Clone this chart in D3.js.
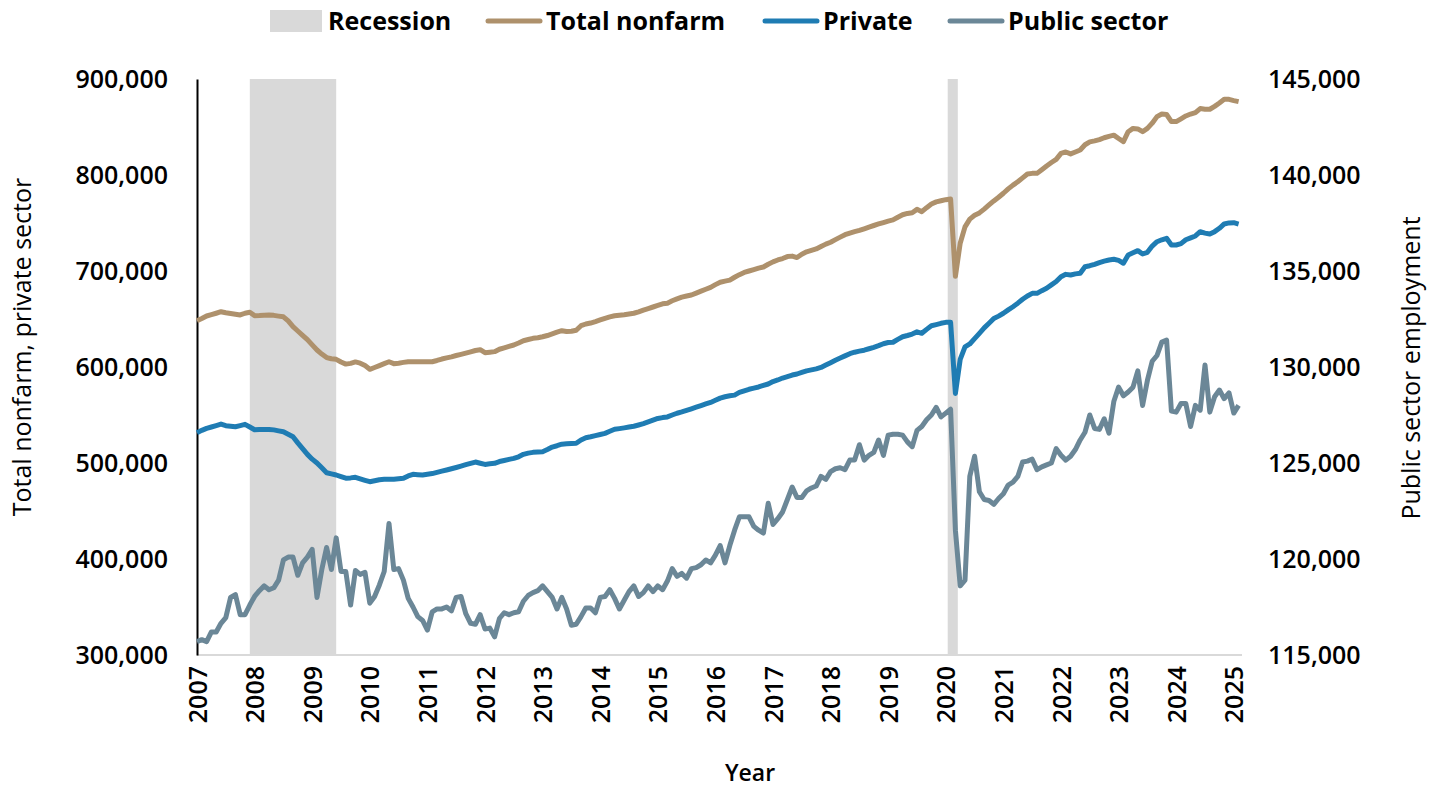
<!doctype html>
<meta charset="utf-8">
<style>
body { margin: 0; background: #fff; }
#chart text { font-family: "Open Sans", "Noto Sans", sans-serif; fill: #000; }
#chart .tick-label { font-size: 25px; font-weight: 600; }
#chart .year-label { font-size: 25px; font-weight: 600; }
#chart .axis-title { font-size: 25px; font-weight: 400; }
#chart .legend-label { font-size: 25px; font-weight: 700; }
</style>
<div id="chart"></div>
<script src="https://cdn.jsdelivr.net/npm/d3@7"></script>
<script>
// monthly series, first point = Jan 2007
var firstYear = 2007;

var totalNonfarm = [
  648200, 650500, 653100, 654500, 656000, 657600, 656500, 655800, 655000, 654200, 656000, 657000,
  653500, 653600, 653900, 654200, 653800, 653000, 652300, 648000, 642000, 637500, 633000, 628500,
  623000, 617700, 613500, 609800, 608600, 608000, 605200, 603000, 603800, 605300, 604000, 601500,
  597600, 599500, 601500, 603500, 605500, 603500, 604000, 604800, 605500, 605500, 605500, 605500,
  605500, 605500, 606800, 608300, 609500, 610600, 612000, 613200, 614500, 615800, 617200, 618000,
  614900, 615400, 616000, 618500, 620000, 621500, 622900, 625000, 627400, 628600, 629900, 630500,
  631500, 632800, 634500, 636300, 637800, 637000, 637200, 638300, 643000, 644800, 645800, 647300,
  649000, 650700, 652200, 653400, 654000, 654500, 655200, 656000, 657500, 659300, 660900, 662500,
  664100, 665800, 666500, 669000, 671000, 672800, 674000, 675000, 677000, 679000, 681000, 683000,
  685800, 688300, 689500, 690500, 693500, 696200, 698500, 700000, 701500, 703000, 704200, 707000,
  709500, 711500, 713000, 715000, 715500, 714000, 717500, 720000, 721500, 723000, 725500, 728000,
  730000, 732700, 735300, 737800, 739500, 741000, 742300, 744000, 745800, 747400, 749000, 750500,
  752000, 753200, 756000, 758600, 760000, 760700, 764200, 761800, 766000, 769800, 772000, 773200,
  774300, 775000, 694500, 728900, 746000, 754000, 758000, 760500, 764500, 768800, 773000, 776800,
  781000, 785500, 789500, 793000, 797000, 801000, 801700, 801700, 805500, 809400, 813000, 816300,
  822500, 824000, 822000, 824000, 826000, 831500, 834500, 835500, 836800, 838800, 840300, 841500,
  838000, 834700, 845100, 848500, 848000, 845100, 848500, 854000, 860800, 863500, 863000, 855600,
  855600, 858500, 861500, 863500, 865000, 869200, 868500, 868500, 871500, 875000, 878800, 878800,
  877500, 876400
];

var privateSector = [
  531600, 534000, 536100, 537500, 539000, 540600, 538900, 538300, 537800, 539000, 540300, 537500,
  534600, 534800, 535000, 535000, 534500, 533500, 532600, 530000, 527400, 521000, 515000, 509000,
  504000, 500000, 495000, 489900, 488700, 487500, 485800, 484200, 484500, 485100, 483500, 482000,
  480500, 481500, 482600, 483000, 483000, 483000, 483500, 484000, 486500, 488200, 487800, 487500,
  488200, 489000, 490300, 491500, 492700, 494000, 495300, 496700, 498200, 499600, 501000, 499700,
  498500, 499200, 499700, 501500, 502600, 503800, 504800, 506500, 509000, 510300, 511100, 511400,
  511800, 514000, 516600, 518000, 519600, 520000, 520300, 520500, 524000, 526300, 527300, 528500,
  529700, 530900, 533000, 535100, 535800, 536600, 537500, 538300, 539600, 541000, 542800, 544600,
  546400, 547300, 548000, 550000, 551800, 553200, 554800, 556500, 558100, 559800, 561500, 563100,
  565300, 567600, 569000, 570000, 570700, 573500, 575200, 576800, 578000, 579200, 580800, 582300,
  584800, 586500, 588500, 590000, 591600, 592700, 594400, 596000, 597000, 598000, 599500, 602000,
  604500, 607000, 609300, 611600, 613900, 615400, 616500, 617500, 619000, 620500, 622200, 624200,
  625500, 625800, 628800, 631500, 632800, 634300, 636600, 635100, 639200, 643000, 644200, 645500,
  646500, 646500, 572500, 608000, 621000, 624000, 629500, 635000, 640700, 645500, 650500, 653000,
  656000, 659500, 662800, 666500, 670500, 674000, 676700, 676700, 679500, 682000, 685500, 689000,
  694000, 696500, 695800, 697000, 697600, 704500, 705500, 707000, 708800, 710300, 711500, 712200,
  711000, 708100, 716700, 719000, 721200, 717700, 719500, 726000, 730500, 732500, 734100, 727100,
  727100, 728500, 732500, 734500, 736500, 740900, 739500, 738500, 741000, 744500, 749000, 750100,
  750300, 748900
];

var publicSector = [
  115700, 115800, 115700, 116200, 116200, 116650, 116950, 118000, 118150, 117100, 117100, 117600,
  118050, 118350, 118600, 118400, 118500, 118900, 119950, 120100, 120100, 119150, 119800, 120100,
  120500, 118000, 119450, 120600, 119450, 121100, 119350, 119350, 117600, 119400, 119200, 119300,
  117700, 118050, 118650, 119350, 121850, 119450, 119500, 118900, 117950, 117500, 117000, 116800,
  116300, 117250, 117400, 117400, 117500, 117300, 118000, 118050, 117150, 116650, 116600, 117100,
  116350, 116400, 115950, 116900, 117200, 117100, 117200, 117250, 117800, 118100, 118250, 118350,
  118600, 118300, 118000, 117400, 118000, 117400, 116550, 116600, 117000, 117450, 117450, 117200,
  118000, 118050, 118400, 117950, 117400, 117850, 118300, 118600, 118050, 118250, 118600, 118300,
  118600, 118400, 118850, 119500, 119100, 119250, 119000, 119500, 119550, 119700, 119950, 119800,
  120200, 120700, 119800, 120700, 121500, 122200, 122200, 122200, 121700, 121500, 121350, 122900,
  121800, 122100, 122450, 123100, 123750, 123200, 123200, 123550, 123700, 123800, 124300, 124150,
  124550, 124700, 124750, 124650, 125150, 125150, 125950, 125150, 125400, 125550, 126200, 125400,
  126450, 126500, 126500, 126450, 126100, 125850, 126700, 126900, 127250, 127500, 127900, 127400,
  127600, 127800, 121500, 118600, 118900, 124300, 125350, 123500, 123100, 123050, 122850, 123150,
  123400, 123850, 124000, 124300, 125050, 125100, 125200, 124650, 124800, 124900, 125000, 125750,
  125400, 125150, 125350, 125700, 126200, 126600, 127500, 126800, 126750, 127300, 126550, 128200,
  128950, 128500, 128700, 128950, 129800, 128000, 129300, 130300, 130600, 131300, 131400, 127700,
  127650, 128100, 128100, 126900, 128000, 127750, 130100, 127650, 128450, 128800, 128350, 128650,
  127600, 128000
];

var yearLabels = d3.range(2007, 2026).map(String);
var leftTicks = [300000, 400000, 500000, 600000, 700000, 800000, 900000];
var rightTicks = [115000, 120000, 125000, 130000, 135000, 140000, 145000];

// recession spans in months since Jan 2007
var recessionStart = [11, 156.4];
var recessionEnd = [29, 158.5];

var seriesNames = ["Total nonfarm", "Private", "Public sector"];
var seriesColors = ["#ae916c", "#1f7cb3", "#6b8797"];
</script>
<script>
var width = 1441;
var height = 787;
var plot = {left: 197, right: 1241, top: 79, bottom: 655};

var svg = d3.select("#chart").append("svg")
    .attr("width", width)
    .attr("height", height)
    .style("display", "block");

var x = d3.scaleLinear()
    .domain([0, 217.5])
    .range([plot.left, plot.right]);
var yLeft = d3.scaleLinear()
    .domain([300000, 900000])
    .range([plot.bottom, plot.top]);
var yRight = d3.scaleLinear()
    .domain([115000, 145000])
    .range([plot.bottom, plot.top]);

var fmt = d3.format(",");

// recession shading
svg.append("g").selectAll("rect")
    .data(recessionStart)
    .join("rect")
    .attr("x", function (d) { return x(d); })
    .attr("width", function (d, i) { return x(recessionEnd[i]) - x(d); })
    .attr("y", plot.top)
    .attr("height", plot.bottom - plot.top)
    .attr("fill", "#d9d9d9");

// bottom axis
var xAxis = svg.append("g")
    .attr("transform", "translate(0," + plot.bottom + ")")
    .call(d3.axisBottom(x)
        .tickValues(yearLabels.map(function (d, i) { return i * 12; }))
        .tickFormat(function (d) { return yearLabels[d / 12]; })
        .tickSize(0));
xAxis.select(".domain").attr("stroke", "#d9d9d9").attr("stroke-width", 2)
    .attr("d", "M" + plot.left + ",0H" + (plot.right + 1));
xAxis.selectAll(".tick text")
    .attr("class", "year-label")
    .attr("transform", "rotate(-90)")
    .attr("text-anchor", "end")
    .attr("x", -11)
    .attr("y", 0)
    .attr("dy", "0.36em");

// left axis
var leftAxis = svg.append("g")
    .attr("transform", "translate(" + plot.left + ",0)")
    .call(d3.axisLeft(yLeft).tickValues(leftTicks).tickFormat(fmt).tickSize(0).tickPadding(29));
leftAxis.select(".domain").attr("stroke", "#000").attr("stroke-width", 2);
leftAxis.selectAll(".tick text").attr("class", "tick-label");

// right axis
var rightAxis = svg.append("g")
    .attr("transform", "translate(" + plot.right + ",0)")
    .call(d3.axisRight(yRight).tickValues(rightTicks).tickFormat(fmt).tickSize(0).tickPadding(27));
rightAxis.select(".domain").remove();
rightAxis.selectAll(".tick text").attr("class", "tick-label");

// lines
function makeLine(scale) {
    return d3.line()
        .x(function (d, i) { return x(i); })
        .y(function (d) { return scale(d); });
}
var seriesData = [totalNonfarm, privateSector, publicSector];
var seriesScales = [yLeft, yLeft, yRight];
seriesData.forEach(function (data, i) {
    svg.append("path")
        .datum(data)
        .attr("fill", "none")
        .attr("stroke", seriesColors[i])
        .attr("stroke-width", 5)
        .attr("stroke-linejoin", "round")
        .attr("d", makeLine(seriesScales[i]));
});

// axis titles
svg.append("text")
    .attr("class", "axis-title")
    .attr("x", 750)
    .attr("y", 781)
    .attr("text-anchor", "middle")
    .style("font-weight", 600)
    .style("font-size", "23px")
    .text("Year");
svg.append("text")
    .attr("class", "axis-title")
    .attr("transform", "translate(31,347) rotate(-90)")
    .attr("text-anchor", "middle")
    .text("Total nonfarm, private sector");
svg.append("text")
    .attr("class", "axis-title")
    .attr("transform", "translate(1420,368) rotate(-90)")
    .attr("text-anchor", "middle")
    .text("Public sector employment");

// legend
var legendItems = [
    {name: "Recession", color: "#d9d9d9", box: true, x: 270},
    {name: seriesNames[0], color: seriesColors[0], box: false, x: 488},
    {name: seriesNames[1], color: seriesColors[1], box: false, x: 765},
    {name: seriesNames[2], color: seriesColors[2], box: false, x: 950}
];
var legend = svg.append("g").selectAll("g")
    .data(legendItems)
    .join("g")
    .attr("transform", function (d) { return "translate(" + d.x + ",21)"; });
legend.filter(function (d) { return d.box; })
    .append("rect")
    .attr("x", 0).attr("y", -11)
    .attr("width", 52).attr("height", 22)
    .attr("fill", function (d) { return d.color; });
legend.filter(function (d) { return !d.box; })
    .append("line")
    .attr("x1", 0).attr("x2", 52)
    .attr("stroke", function (d) { return d.color; })
    .attr("stroke-width", 5)
    .attr("stroke-linecap", "round");
legend.append("text")
    .attr("class", "legend-label")
    .attr("x", 58)
    .attr("dy", "0.36em")
    .text(function (d) { return d.name; });
</script>
